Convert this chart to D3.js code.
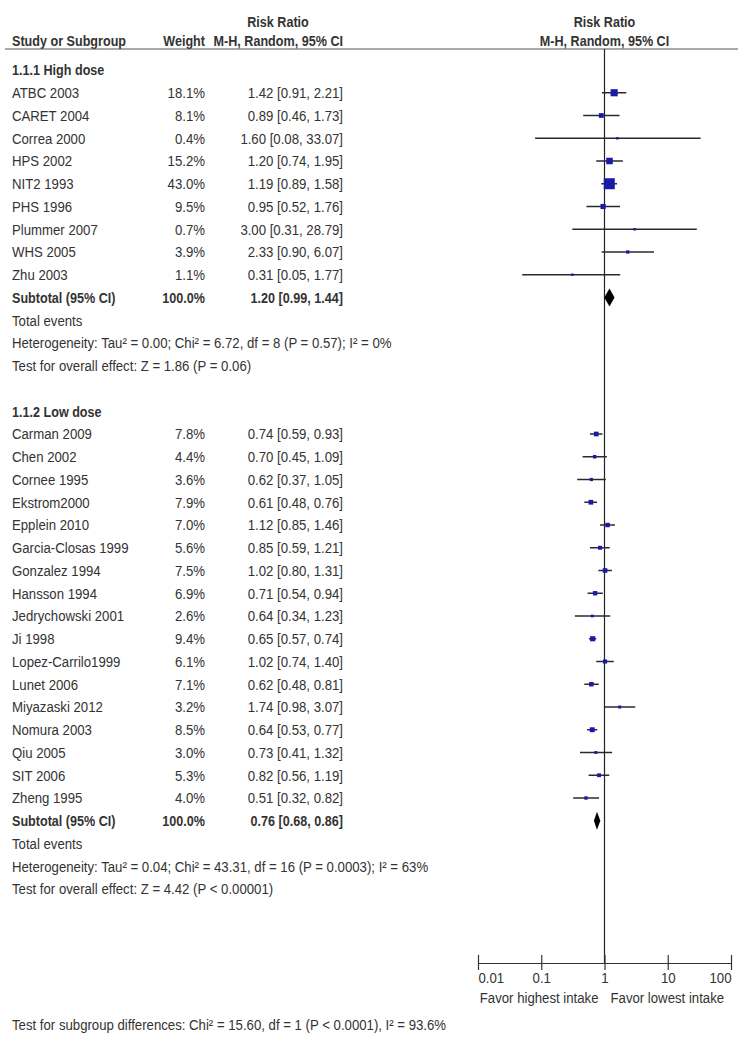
<!DOCTYPE html>
<html>
<head>
<meta charset="utf-8">
<script src="https://cdn.jsdelivr.net/npm/d3@7"></script>
<style>
  html, body { margin: 0; padding: 0; background: #fff; }
  svg { display: block; }
  text { font-family: "Liberation Sans", Arial, sans-serif; fill: #333; font-size: 15px; }
  .b { font-weight: bold; }
</style>
</head>
<body>
<svg id="chart" width="746" height="1041"></svg>
<script>
// ---------- data ----------
const highStudies = ["ATBC 2003", "CARET 2004", "Correa 2000", "HPS 2002", "NIT2 1993", "PHS 1996", "Plummer 2007", "WHS 2005", "Zhu 2003"];
const highWeights = [18.1, 8.1, 0.4, 15.2, 43.0, 9.5, 0.7, 3.9, 1.1];
const highRR = [1.42, 0.89, 1.60, 1.20, 1.19, 0.95, 3.00, 2.33, 0.31];
const highLo = [0.91, 0.46, 0.08, 0.74, 0.89, 0.52, 0.31, 0.90, 0.05];
const highHi = [2.21, 1.73, 33.07, 1.95, 1.58, 1.76, 28.79, 6.07, 1.77];
const highSubtotal = [1.20, 0.99, 1.44];
const highHetero = "Heterogeneity: Tau\u00B2 = 0.00; Chi\u00B2 = 6.72, df = 8 (P = 0.57); I\u00B2 = 0%";
const highTest = "Test for overall effect: Z = 1.86 (P = 0.06)";

const lowStudies = ["Carman 2009", "Chen 2002", "Cornee 1995", "Ekstrom2000", "Epplein 2010", "Garcia-Closas 1999", "Gonzalez 1994", "Hansson 1994", "Jedrychowski 2001", "Ji 1998", "Lopez-Carrilo1999", "Lunet 2006", "Miyazaski 2012", "Nomura 2003", "Qiu 2005", "SIT 2006", "Zheng 1995"];
const lowWeights = [7.8, 4.4, 3.6, 7.9, 7.0, 5.6, 7.5, 6.9, 2.6, 9.4, 6.1, 7.1, 3.2, 8.5, 3.0, 5.3, 4.0];
const lowRR = [0.74, 0.70, 0.62, 0.61, 1.12, 0.85, 1.02, 0.71, 0.64, 0.65, 1.02, 0.62, 1.74, 0.64, 0.73, 0.82, 0.51];
const lowLo = [0.59, 0.45, 0.37, 0.48, 0.85, 0.59, 0.80, 0.54, 0.34, 0.57, 0.74, 0.48, 0.98, 0.53, 0.41, 0.56, 0.32];
const lowHi = [0.93, 1.09, 1.05, 0.76, 1.46, 1.21, 1.31, 0.94, 1.23, 0.74, 1.40, 0.81, 3.07, 0.77, 1.32, 1.19, 0.82];
const lowSubtotal = [0.76, 0.68, 0.86];
const lowHetero = "Heterogeneity: Tau\u00B2 = 0.04; Chi\u00B2 = 43.31, df = 16 (P = 0.0003); I\u00B2 = 63%";
const lowTest = "Test for overall effect: Z = 4.42 (P < 0.00001)";

const groupTitles = ["1.1.1 High dose", "1.1.2 Low dose"];
const tickValues = [0.01, 0.1, 1, 10, 100];
const tickLabels = ["0.01", "0.1", "1", "10", "100"];
const favorLabels = ["Favor highest intake", "Favor lowest intake"];
const subgroupTest = "Test for subgroup differences: Chi\u00B2 = 15.60, df = 1 (P < 0.0001), I\u00B2 = 93.6%";

// ---------- build rows ----------
const rows = [];
function addGroup(title, names, w, rr, lo, hi, sub, het, test) {
  rows.push({type: "title", label: title});
  names.forEach((n, i) => rows.push({type: "study", label: n, w: w[i], rr: rr[i], lo: lo[i], hi: hi[i]}));
  rows.push({type: "subtotal", label: "Subtotal (95% CI)", w: 100, rr: sub[0], lo: sub[1], hi: sub[2]});
  rows.push({type: "text", label: "Total events"});
  rows.push({type: "text", label: het});
  rows.push({type: "text", label: test});
}
addGroup(groupTitles[0], highStudies, highWeights, highRR, highLo, highHi, highSubtotal, highHetero, highTest);
rows.push({type: "blank", label: ""});
addGroup(groupTitles[1], lowStudies, lowWeights, lowRR, lowLo, lowHi, lowSubtotal, lowHetero, lowTest);
rows.forEach((r, i) => r.idx = i);

// ---------- layout ----------
const svg = d3.select("#chart");
const x = d3.scaleLog().domain([0.01, 100]).range([478, 731]);
const y = d3.scaleLinear().domain([0, rows.length - 1]).range([70, 70 + 22.75 * (rows.length - 1)]);
const headerLineY = 49;
const axisY = 963;
const nameX = 12, weightX = 205, ciX = 343;

const fmt2 = d3.format(".2f");
const fmtW = d => d3.format(".1f")(d) + "%";
const ciText = r => `${fmt2(r.rr)} [${fmt2(r.lo)}, ${fmt2(r.hi)}]`;

// condensed text helper (horizontal scaling to mimic a narrow face)
function txt(parent, tx, ty, str, anchor, bold) {
  const sx = bold ? 0.84 : 0.88;
  return parent.append("text")
    .attr("class", bold ? "b" : null)
    .attr("transform", `translate(${tx},${ty}) scale(${sx},1)`)
    .attr("text-anchor", anchor || "start")
    .attr("dy", "0.36em")
    .text(str);
}

// headers
txt(svg, 278, 22, "Risk Ratio", "middle", true);
txt(svg, nameX, 41, "Study or Subgroup", "start", true);
txt(svg, weightX, 41, "Weight", "end", true);
txt(svg, ciX, 41, "M-H, Random, 95% CI", "end", true);
txt(svg, x(1), 22, "Risk Ratio", "middle", true);
txt(svg, x(1), 41, "M-H, Random, 95% CI", "middle", true);
svg.append("line").attr("x1", 5).attr("x2", 738).attr("y1", headerLineY).attr("y2", headerLineY).attr("stroke", "#555").attr("stroke-width", 1.2);

// vertical line of no effect
svg.append("line").attr("x1", x(1)).attr("x2", x(1)).attr("y1", headerLineY).attr("y2", axisY).attr("stroke", "#222").attr("stroke-width", 1.2);

// row texts
const g = svg.append("g");
rows.forEach(r => {
  if (r.type === "blank") return;
  const bold = r.type === "title" || r.type === "subtotal";
  txt(g, nameX, y(r.idx), r.label, "start", bold);
  if (r.type === "study" || r.type === "subtotal") {
    txt(g, weightX, y(r.idx), fmtW(r.w), "end", bold);
    txt(g, ciX, y(r.idx), ciText(r), "end", bold);
  }
});

// study CIs & squares
const studies = rows.filter(r => r.type === "study");
const size = d3.scaleSqrt().domain([0, 43]).range([0, 11]);
const side = d => Math.max(2.5, size(d.w));
g.selectAll("line.ci").data(studies).join("line").attr("class", "ci")
  .attr("x1", d => x(d.lo)).attr("x2", d => x(d.hi))
  .attr("y1", d => y(d.idx)).attr("y2", d => y(d.idx))
  .attr("stroke", "#2a2a2a").attr("stroke-width", 1.5);
g.selectAll("rect.sq").data(studies).join("rect").attr("class", "sq")
  .attr("x", d => x(d.rr) - side(d) / 2)
  .attr("y", d => y(d.idx) - side(d) / 2)
  .attr("width", side)
  .attr("height", side)
  .attr("fill", "#1a1aa8");

// diamonds
const subs = rows.filter(r => r.type === "subtotal");
g.selectAll("path.dia").data(subs).join("path").attr("class", "dia")
  .attr("d", d => {
    const cy = y(d.idx), h = 9;
    return `M${x(d.lo)},${cy} L${x(d.rr)},${cy - h} L${x(d.hi)},${cy} L${x(d.rr)},${cy + h} Z`;
  })
  .attr("fill", "#000");

// axis
const axis = d3.axisBottom(x).tickValues(tickValues).tickFormat(() => "").tickSize(0);
const ag = svg.append("g").attr("transform", `translate(0,${axisY})`).call(axis);
ag.select(".domain").attr("stroke", "#333").attr("stroke-width", 1.2);
ag.selectAll(".tick line").attr("y1", -8).attr("y2", 7).attr("stroke", "#333").attr("stroke-width", 1.2);
ag.selectAll(".tick").each(function(d, i) {
  const anchor = i === 0 ? "start" : (i === tickValues.length - 1 ? "end" : "middle");
  txt(d3.select(this), 0, 15, tickLabels[i], anchor, false);
});

txt(svg, x(1) - 6, 998, favorLabels[0], "end", false);
txt(svg, x(1) + 6, 998, favorLabels[1], "start", false);

txt(svg, nameX, 1025, subgroupTest, "start", false);
</script>
</body>
</html>
